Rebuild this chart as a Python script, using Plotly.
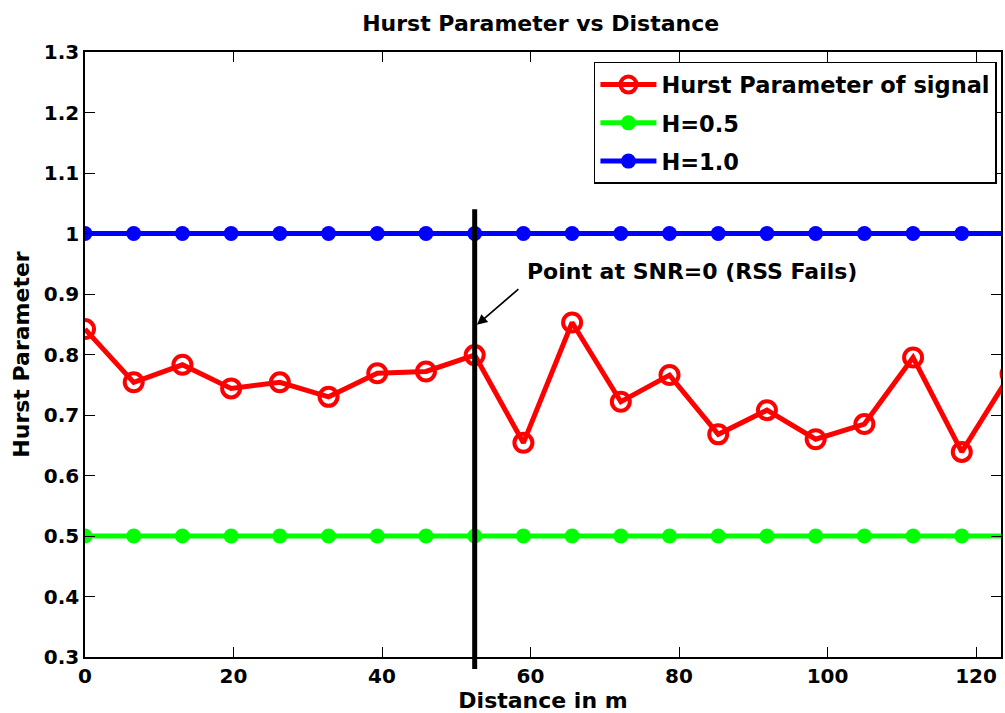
import plotly.graph_objects as go

# Measurement distances (m) and the estimated Hurst parameter at each one
distance_m = [0, 6.56, 13.12, 19.68, 26.24, 32.8, 39.36, 45.92, 52.48, 59.04,
              65.6, 72.16, 78.72, 85.28, 91.84, 98.4, 104.96, 111.52, 118.08, 124.64]
hurst_signal = [0.842, 0.754, 0.783, 0.744, 0.754, 0.730, 0.769, 0.772, 0.799, 0.654,
                0.853, 0.722, 0.766, 0.668, 0.708, 0.660, 0.685, 0.795, 0.639, 0.768]
h_low = [0.5] * len(distance_m)
h_high = [1.0] * len(distance_m)

# Index of the distance where SNR reaches 0 dB
snr_zero_idx = 8
snr_line_span = (0.28, 1.04)

x_range = [0, 123.36]
y_range = [0.3, 1.3]
x_ticks = [0, 20, 40, 60, 80, 100, 120]
y_ticks = [0.3, 0.4, 0.5, 0.6, 0.7, 0.8, 0.9, 1.0, 1.1, 1.2, 1.3]
y_tick_text = ["0.3", "0.4", "0.5", "0.6", "0.7", "0.8", "0.9", "1", "1.1", "1.2", "1.3"]

FONT = "DejaVu Sans"

fig = go.Figure()

fig.add_trace(go.Scatter(
    x=distance_m, y=hurst_signal, mode="lines+markers",
    name="<b>Hurst Parameter of signal</b>", legendgroup="sig",
    line=dict(color="#ff0000", width=5),
    marker=dict(symbol="circle-open", size=18, color="#ff0000", line=dict(width=4, color="#ff0000")),
))
fig.add_trace(go.Scatter(
    x=distance_m, y=h_low, mode="lines+markers", name="<b>H=0.5</b>", legendgroup="low",
    line=dict(color="#00ff00", width=5),
    marker=dict(symbol="circle", size=15, color="#00ff00"),
))
fig.add_trace(go.Scatter(
    x=distance_m, y=h_high, mode="lines+markers", name="<b>H=1.0</b>", legendgroup="high",
    line=dict(color="#0000ff", width=5),
    marker=dict(symbol="circle", size=15, color="#0000ff"),
))

# Vertical marker at the SNR=0 distance (extends slightly past the axes)
def y_to_paper(v):
    return (v - y_range[0]) / (y_range[1] - y_range[0])

fig.add_shape(
    type="line", xref="x", yref="paper",
    x0=distance_m[snr_zero_idx], x1=distance_m[snr_zero_idx],
    y0=y_to_paper(snr_line_span[0]), y1=y_to_paper(snr_line_span[1]),
    line=dict(color="black", width=5),
)

# Arrow and label for the SNR=0 point
fig.add_annotation(
    x=distance_m[snr_zero_idx] + 0.3, y=0.849, xref="x", yref="y",
    text="", showarrow=True, arrowhead=2, arrowsize=1.3, arrowwidth=1.6,
    arrowcolor="black", ax=43, ay=-37,
)
fig.add_annotation(
    x=81.8, y=0.937, xref="x", yref="y",
    text="<b>Point at SNR=0 (RSS Fails)</b>", showarrow=False,
    font=dict(family=FONT, size=22, color="black"),
)

axis_common = dict(
    showgrid=False, zeroline=False, showline=True, linecolor="black", linewidth=1.5,
    mirror="ticks", ticks="inside", ticklen=10, tickcolor="black", tickwidth=1,
    tickfont=dict(family=FONT, size=20, color="black"),
)

fig.update_layout(
    width=1005, height=713,
    margin=dict(l=85, r=2, t=52, b=56),
    paper_bgcolor="white", plot_bgcolor="white",
    title=dict(text="<b>Hurst Parameter vs Distance</b>", x=0.538, xanchor="center",
               y=0.968, yanchor="middle", font=dict(family=FONT, size=22, color="black")),
    xaxis=dict(range=x_range, tickvals=x_ticks, ticktext=[f"<b>{t}</b>" for t in x_ticks],
               title=dict(text="<b>Distance in m</b>", standoff=2,
                          font=dict(family=FONT, size=22, color="black")),
               **axis_common),
    yaxis=dict(range=y_range, tickvals=y_ticks, ticktext=[f"<b>{t}</b>" for t in y_tick_text],
               title=dict(text="<b>Hurst Parameter</b>", standoff=8,
                          font=dict(family=FONT, size=22, color="black")),
               **axis_common),
    legend=dict(x=0.5556, y=0.9835, xanchor="left", yanchor="top",
                bgcolor="white", bordercolor="black", borderwidth=1.5,
                font=dict(family=FONT, size=22.5, color="black"),
                itemwidth=56, tracegroupgap=6),
    showlegend=True,
)

fig.write_html("out.html")
